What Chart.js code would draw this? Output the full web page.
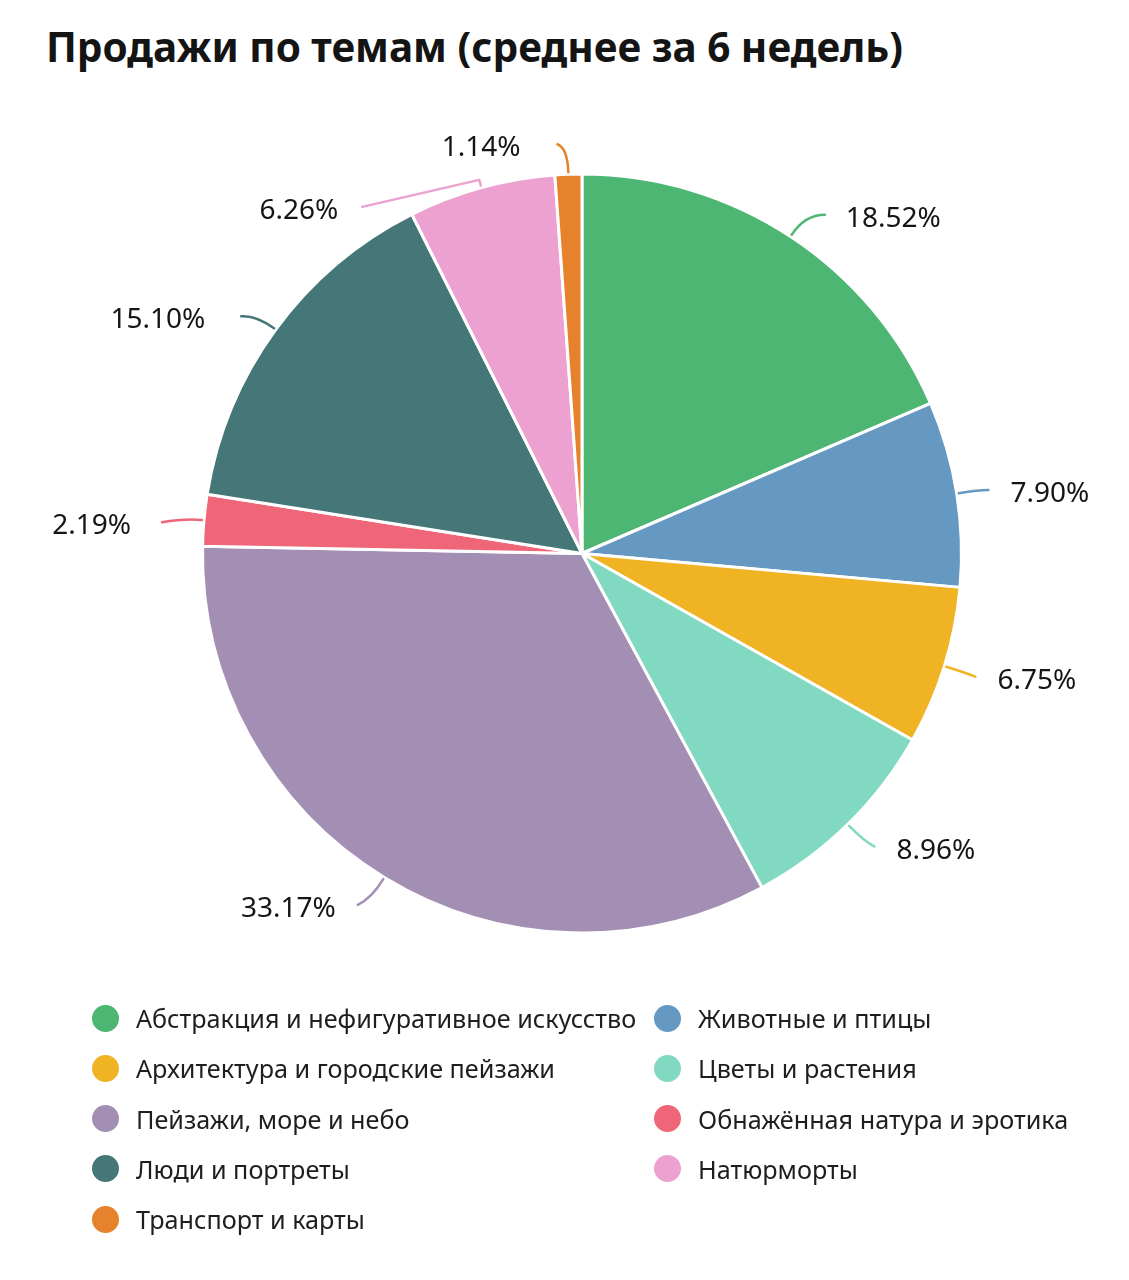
<!DOCTYPE html>
<html lang="ru">
<head>
<meta charset="utf-8">
<script src="https://cdn.jsdelivr.net/npm/chart.js@4.4.1/dist/chart.umd.min.js"></script>
<style>
  html, body { margin: 0; padding: 0; background: #ffffff; }
  #wrap { position: relative; width: 1129px; height: 1280px; overflow: hidden; }
  #title { position: absolute; left: 46px; top: 20px; margin: 0; font-family: "Noto Sans", sans-serif; font-weight: 700; font-size: 40.5px; line-height: 54px; color: #141414; white-space: nowrap; }
  #chartBox { position: absolute; left: 0; top: 0; width: 1129px; height: 980px; }
  #legend { position: absolute; left: 0; top: 0; width: 1129px; height: 1280px; pointer-events: none; font-family: "Noto Sans", sans-serif; font-size: 25.2px; color: #1e1e1e; }
  .item { position: absolute; height: 40px; display: flex; align-items: center; white-space: nowrap; }
  .dot { width: 27px; height: 27px; border-radius: 50%; flex: 0 0 auto; }
  .txt { margin-left: 17px; }
</style>
</head>
<body>
<div id="wrap">
  <h1 id="title">Продажи по темам (среднее за 6 недель)</h1>
  <div id="chartBox"><canvas id="chart"></canvas></div>
  <div id="legend"></div>
</div>
<script>
// ---- data ----
const categories = [
  "Абстракция и нефигуративное искусство",
  "Животные и птицы",
  "Архитектура и городские пейзажи",
  "Цветы и растения",
  "Пейзажи, море и небо",
  "Обнажённая натура и эротика",
  "Люди и портреты",
  "Натюрморты",
  "Транспорт и карты"
];
const shares = [18.52, 7.90, 6.75, 8.96, 33.17, 2.19, 15.10, 6.26, 1.14];
const sliceColors = [
  "#4db673", "#6699c2", "#f0b323", "#82d9c1", "#a38fb3",
  "#ee6677", "#457779", "#eda1d0", "#e5822b"
];

// ---- label leader layout (positions only) ----
const leaderLayout = [
  { shift: 0,    elbow: 26, dx: 20,   dy: 0,  gap: 21 },
  { shift: 0,    elbow: 22, dx: 10,   dy: 0,  gap: 22 },
  { shift: 0,    elbow: 22, dx: 10,   dy: 4,  gap: 22 },
  { shift: 0,    elbow: 24, dx: 10,   dy: 5,  gap: 22 },
  { shift: 0,    elbow: 24, dx: -14,  dy: 7,  gap: 22 },
  { shift: 0,    elbow: 20, dx: -22,  dy: 4,  gap: 31 },
  { shift: 0,    elbow: 24, dx: -15,  dy: 1,  gap: 36 },
  { shift: 0,    elbow: 8,  dx: -117, dy: 27, gap: 24, straight: true },
  { shift: 0,    elbow: 26, dx: -10,  dy: -4, gap: 37 }
];

const leaderPlugin = {
  id: 'leaderLabels',
  afterDatasetsDraw(chart) {
    const ctx = chart.ctx;
    const meta = chart.getDatasetMeta(0);
    const vals = chart.data.datasets[0].data;
    meta.data.forEach((arc, i) => {
      const L = leaderLayout[i];
      const p = arc.getProps(['x', 'y', 'startAngle', 'endAngle', 'outerRadius'], true);
      const a = (p.startAngle + p.endAngle) / 2 + L.shift * Math.PI / 180;
      const cx = Math.cos(a), cy = Math.sin(a);
      const r = p.outerRadius;
      const sx = p.x + cx * (r + 2), sy = p.y + cy * (r + 2);
      const ex = p.x + cx * (r + L.elbow), ey = p.y + cy * (r + L.elbow);
      const tx = ex + L.dx, ty = ey + L.dy;
      ctx.save();
      ctx.strokeStyle = sliceColors[i];
      ctx.lineWidth = 2.5;
      ctx.lineCap = 'round';
      ctx.lineJoin = 'round';
      ctx.beginPath();
      ctx.moveTo(sx, sy);
      if (L.straight) { ctx.lineTo(ex, ey); ctx.lineTo(tx, ty); }
      else { ctx.quadraticCurveTo(ex, ey, tx, ty); }
      ctx.stroke();
      const right = L.dx >= 0;
      ctx.fillStyle = '#151515';
      ctx.font = '28px "Noto Sans", sans-serif';
      ctx.textAlign = right ? 'left' : 'right';
      ctx.textBaseline = 'middle';
      ctx.fillText(vals[i].toFixed(2) + '%', tx + (right ? L.gap : -L.gap), ty + 4);
      ctx.restore();
    });
  }
};

const chart = new Chart(document.getElementById('chart'), {
  type: 'pie',
  data: {
    labels: categories,
    datasets: [{
      data: shares,
      backgroundColor: sliceColors,
      borderColor: '#ffffff',
      borderWidth: 3
    }]
  },
  options: {
    responsive: true,
    maintainAspectRatio: false,
    animation: false,
    events: [],
    layout: { padding: { top: 172, bottom: 45, left: 201, right: 166 } },
    plugins: {
      legend: { display: false },
      tooltip: { enabled: false },
      title: { display: false }
    }
  },
  plugins: [leaderPlugin]
});

// ---- HTML legend built from the chart data ----
const legendBox = document.getElementById('legend');
const colX = [92, 654];
categories.forEach((name, i) => {
  const row = Math.floor(i / 2), col = i % 2;
  const it = document.createElement('div');
  it.className = 'item';
  it.style.left = colX[col] + 'px';
  it.style.top = (1018 + row * 50.3 - 20) + 'px';
  const d = document.createElement('span');
  d.className = 'dot';
  d.style.background = sliceColors[i];
  const t = document.createElement('span');
  t.className = 'txt';
  t.textContent = name;
  it.appendChild(d); it.appendChild(t);
  legendBox.appendChild(it);
});
</script>
</body>
</html>
